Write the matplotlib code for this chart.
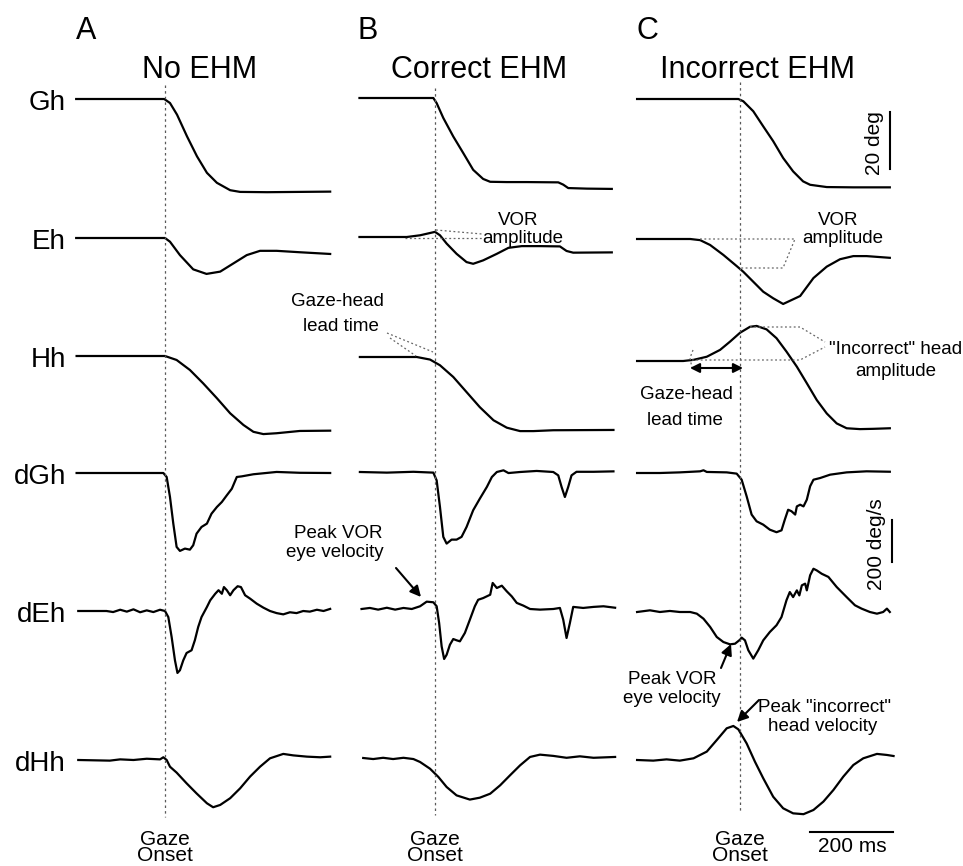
import matplotlib
matplotlib.use('Agg')
import matplotlib.pyplot as plt

plt.rcParams['font.family'] = ['Liberation Sans', 'DejaVu Sans']

# ---- data: time in ms from gaze onset, position in deg, velocity in deg/s ----
# column A : no EHM
A_GH_T = [-214, -2, 12, 29, 53, 77, 101, 125, 157, 181, 246, 398]
A_GH = [0, 0, -1.4, -5.5, -13.1, -20.1, -25.9, -29.4, -32.0, -32.6, -32.7, -32.5]
A_EH_T = [-214, 0, 12, 36, 68, 100, 133, 165, 197, 229, 269, 325, 398]
A_EH = [0, 0, -1.3, -6.0, -11.0, -12.6, -11.8, -8.9, -6.0, -4.5, -4.5, -5.0, -5.6]
A_HH_T = [-213, 0, 28, 60, 92, 125, 157, 189, 213, 237, 269, 325, 398]
A_HH = [0, 0, -1.4, -4.9, -9.6, -14.8, -20.1, -24.2, -26.6, -27.4, -27.1, -26.3, -26.2]
A_DGH_T = [-213, -4, 4, 12, 20, 28, 36, 48, 60, 68, 76, 88, 101, 112, 125, 137, 149, 161,
           173, 185, 213, 269, 325, 398]
A_DGH = [0, 0, -19, -114, -241, -352, -371, -360, -365, -344, -289, -257, -241, -194, -162,
         -138, -106, -75, -19, -16, -6, 5, 1, 0]
A_DEH_T = [-209, -141, -125, -108, -92, -76, -60, -44, -28, -12, 0, 8, 16, 24, 30, 36, 44, 52,
           64, 72, 80, 88, 101, 109, 121, 129, 137, 142, 149, 157, 165, 175, 183, 193, 205, 221,
           237, 253, 269, 285, 301, 317, 333, 349, 366, 382, 398]
A_DEH = [0, 0, -5, 6, -3, 8, -6, 3, -5, 6, 0, -29, -124, -235, -295, -282, -235, -200, -187,
         -139, -76, -29, 19, 51, 82, 99, 82, 114, 99, 75, 99, 118, 114, 75, 59, 35, 16, 0, -10,
         -16, -6, -10, 0, -3, 6, 0, 10]
A_DHH_T = [-209, -133, -108, -76, -44, -12, -4, 4, 12, 28, 52, 76, 101, 116, 133, 157, 181, 205,
           229, 253, 285, 309, 342, 374, 398]
A_DHH = [0, -3, 3, 0, 6, 3, 13, 0, -32, -60, -111, -159, -206, -225, -214, -182, -135, -79,
         -32, 8, 29, 22, 16, 13, 16]

# column B : correct EHM
B_GH_T = [-182, -4, 4, 20, 44, 68, 92, 116, 133, 173, 221, 297, 309, 321, 366, 426]
B_GH = [0, 0, -1.8, -7.0, -13.5, -19.3, -25.2, -28.4, -29.4, -29.5, -29.5, -29.6, -30.4,
        -31.6, -31.8, -31.9]
B_EH_T = [-182, -68, -36, 0, 12, 28, 52, 76, 92, 116, 149, 177, 209, 253, 301, 317, 333, 426]
B_EH = [0, 0, 0.6, 1.8, 0.6, -2.3, -5.9, -8.8, -9.4, -8.2, -5.9, -3.8, -3.2, -3.2, -3.3,
        -4.9, -5.5, -5.4]
B_HH_T = [-181, -44, -12, 12, 44, 76, 108, 141, 173, 205, 237, 285, 430]
B_HH = [0, 0, -0.9, -2.9, -7.0, -12.3, -17.6, -22.2, -24.8, -26.0, -26.0, -25.7, -25.6]
B_DGH_T = [-181, -116, -52, -4, 4, 12, 20, 28, 40, 52, 64, 76, 92, 108, 125, 137, 149, 165,
           177, 205, 245, 285, 297, 305, 313, 321, 329, 341, 382, 430]
B_DGH = [0, -3, 1, -3, -40, -167, -309, -341, -322, -322, -309, -262, -182, -127, -71, -24,
         0, 8, -5, 0, 5, 0, -16, -71, -119, -71, -16, 1, 1, 3]
B_DEH_T = [-177, -157, -137, -116, -96, -76, -56, -36, -20, -4, 4, 10, 16, 22, 28, 36, 44, 52,
           60, 72, 84, 96, 104, 116, 133, 139, 149, 161, 173, 185, 197, 213, 229, 253, 285,
           301, 309, 317, 325, 333, 357, 382, 406, 434]
B_DEH = [0, 5, -3, 6, -3, 5, 0, 13, 35, 32, 13, -67, -178, -238, -218, -170, -143, -149,
         -154, -114, -51, 13, 44, 52, 68, 124, 100, 111, 84, 60, 29, 16, 0, -3, 0, 5, -51,
         -138, -67, 10, 5, 10, 13, 6]
B_DHH_T = [-173, -149, -125, -101, -76, -52, -36, -12, 8, 28, 52, 84, 108, 133, 157, 181, 205,
           229, 253, 285, 317, 349, 382, 434]
B_DHH = [0, -5, 1, -5, 1, -5, -19, -51, -90, -138, -178, -198, -189, -170, -130, -82, -35, 5,
         16, 10, 1, 8, 1, 5]

# column C : incorrect EHM
C_GH_T = [-248, -120, -4, 8, 32, 56, 80, 104, 128, 152, 169, 209, 273, 361]
C_GH = [0, 0, 0, -0.8, -4.3, -9.6, -14.8, -20.7, -25.4, -28.9, -30.1, -30.9, -31.0, -31.0]
C_EH_T = [-248, -120, -96, -72, -40, -8, 8, 32, 56, 80, 104, 145, 177, 209, 241, 273, 305, 361]
C_EH = [0, 0, -0.4, -2.1, -5.6, -9.5, -11.5, -15.0, -18.5, -20.8, -22.8, -20.0, -13.7, -9.7,
        -7.1, -6.0, -6.0, -6.6]
C_HH_T = [-248, -137, -112, -80, -48, -24, 0, 24, 40, 64, 88, 112, 137, 161, 185, 209, 233,
          257, 289, 321, 361]
C_HH = [0, 0, 0.4, 1.5, 3.9, 6.8, 9.9, 12.0, 12.3, 11.1, 8.0, 3.3, -2.0, -7.8, -13.7, -18.4,
        -21.9, -23.6, -23.9, -23.8, -23.6]
C_DGH_T = [-248, -193, -145, -96, -88, -80, -32, -8, 4, 16, 28, 40, 56, 72, 88, 100, 108, 116,
           124, 133, 137, 145, 153, 161, 169, 177, 193, 217, 257, 305, 361]
C_DGH = [0, 0, 3, 8, 13, 5, 3, -3, -32, -111, -198, -230, -246, -270, -282, -273, -222, -175,
         -182, -198, -159, -151, -159, -127, -63, -32, -24, -8, 3, 8, 6]
C_DEH_T = [-248, -217, -193, -169, -145, -120, -104, -88, -72, -56, -40, -24, -12, 0, 4, 12,
           20, 32, 44, 56, 72, 88, 100, 112, 120, 128, 137, 143, 149, 157, 161, 169, 177, 185,
           197, 213, 233, 257, 277, 293, 313, 330, 345, 354, 361]
C_DEH = [0, 8, 0, 5, 0, 0, -8, -32, -71, -119, -143, -154, -151, -132, -122, -135, -182, -222,
         -182, -135, -95, -63, -24, 56, 95, 71, 103, 79, 127, 135, 103, 175, 206, 198, 182, 167,
         119, 71, 32, 16, 0, -8, 0, 16, 0]
C_DHH_T = [-248, -209, -177, -145, -112, -80, -56, -32, -16, -4, 16, 36, 56, 80, 104, 128, 153,
           177, 201, 225, 249, 273, 297, 330, 354, 370]
C_DHH = [0, -3, 3, -3, 8, 40, 95, 151, 162, 146, 79, -8, -87, -175, -230, -254, -258, -238,
         -198, -143, -79, -24, 8, 29, 24, 19]

ROW_NAMES = ['Gh', 'Eh', 'Hh', 'dGh', 'dEh', 'dHh']
PANEL_LETTERS = ['A', 'B', 'C']
PANEL_TITLES = ['No EHM', 'Correct EHM', 'Incorrect EHM']

TRACES = [
    [(A_GH_T, A_GH), (A_EH_T, A_EH), (A_HH_T, A_HH), (A_DGH_T, A_DGH), (A_DEH_T, A_DEH), (A_DHH_T, A_DHH)],
    [(B_GH_T, B_GH), (B_EH_T, B_EH), (B_HH_T, B_HH), (B_DGH_T, B_DGH), (B_DEH_T, B_DEH), (B_DHH_T, B_DHH)],
    [(C_GH_T, C_GH), (C_EH_T, C_EH), (C_HH_T, C_HH), (C_DGH_T, C_DGH), (C_DEH_T, C_DEH), (C_DHH_T, C_DHH)],
]

# ---- layout (pixels) ----
W, H = 963, 866
PX_MS = 83 / 200.0        # 200 ms bar
PX_DEG = 57 / 20.0        # 20 deg bar
PX_VEL = 42 / 200.0       # 200 deg/s bar
XLIM = (-260, 440)
ONSET_PX = [165, 435, 740]
BASE_PX = [[99, 238, 356, 473, 611, 760],
           [98, 237, 357, 472, 609, 758],
           [99, 239, 361, 473, 612, 760]]

fig = plt.figure(figsize=(W / 100, H / 100), dpi=100)


def trace_axes(onset, base, scale):
    left = onset + XLIM[0] * PX_MS
    width = (XLIM[1] - XLIM[0]) * PX_MS
    top, bottom = base - 70, base + 100
    ax = fig.add_axes([left / W, 1 - bottom / H, width / W, (bottom - top) / H])
    ax.set_xlim(XLIM)
    ax.set_ylim((base - bottom) / scale, (base - top) / scale)
    ax.axis('off')
    ax.patch.set_alpha(0)
    return ax


for c in range(3):
    for r in range(6):
        scale = PX_DEG if r < 3 else PX_VEL
        ax = trace_axes(ONSET_PX[c], BASE_PX[c][r], scale)
        t, v = TRACES[c][r]
        ax.plot(t, v, color='black', lw=1.6, clip_on=False, solid_joinstyle='round')

# overlay in pixel coordinates for labels and annotations
ov = fig.add_axes([0, 0, 1, 1])
ov.set_xlim(0, W)
ov.set_ylim(H, 0)
ov.axis('off')
ov.patch.set_alpha(0)

# gaze onset lines
for x, y0, y1 in zip(ONSET_PX, [85, 88, 82], [817, 815, 812]):
    ov.plot([x, x], [y0, y1], color='0.35', lw=0.9, ls=(0, (2, 2.5)))
    ov.text(x, 865, 'Gaze\nOnset', ha='center', va='bottom', fontsize=15,
            linespacing=0.82)

# panel letters and titles
for x, s in zip([76, 358, 637], PANEL_LETTERS):
    ov.text(x, 39, s, ha='left', va='baseline', fontsize=22)
for x, s in zip([200, 479, 758], PANEL_TITLES):
    ov.text(x, 78, s, ha='center', va='baseline', fontsize=22)

# row labels
for base, name in zip(BASE_PX[0], ROW_NAMES):
    ov.text(66, base + 11, name, ha='right', va='baseline', fontsize=20)

# scale bars
ov.plot([890, 890], [112, 169], color='black', lw=1.5)
ov.text(874, 143, '20 deg', rotation=90, ha='center', va='center', fontsize=15)
ov.plot([892, 892], [520, 562], color='black', lw=1.5)
ov.text(876, 544, '200 deg/s', rotation=90, ha='center', va='center', fontsize=15)
ov.plot([810, 893], [832, 832], color='black', lw=1.5)
ov.text(852, 852, '200 ms', ha='center', va='baseline', fontsize=15)

# annotations
FS = 13.5
dot = dict(color='0.4', lw=0.9, ls=(0, (1.5, 2)))
arrow = dict(arrowstyle='-|>', color='black', lw=1.5, mutation_scale=16, shrinkA=0, shrinkB=0)

ov.text(518, 225, 'VOR', ha='center', va='baseline', fontsize=FS)
ov.text(523, 243, 'amplitude', ha='center', va='baseline', fontsize=FS)
ov.plot([436, 482], [230, 234], **dot)
ov.plot([405, 482], [238, 238], **dot)

ov.text(337, 306, 'Gaze-head', ha='center', va='baseline', fontsize=FS)
ov.text(341, 331, 'lead time', ha='center', va='baseline', fontsize=FS)
ov.plot([387, 433], [333, 352], **dot)
ov.plot([390, 416], [338, 356], **dot)

ov.text(338, 538, 'Peak VOR', ha='center', va='baseline', fontsize=FS)
ov.text(335, 557, 'eye velocity', ha='center', va='baseline', fontsize=FS)
ov.annotate('', xy=(421, 597), xytext=(396, 568), arrowprops=arrow)

ov.text(838, 225, 'VOR', ha='center', va='baseline', fontsize=FS)
ov.text(843, 243, 'amplitude', ha='center', va='baseline', fontsize=FS)
ov.plot([700, 795, 783, 741], [239, 239, 268, 268], **dot)

ov.text(896, 354, '"Incorrect" head', ha='center', va='baseline', fontsize=FS)
ov.text(896, 376, 'amplitude', ha='center', va='baseline', fontsize=FS)
ov.plot([750, 800, 825], [327, 327, 342], **dot)
ov.plot([692, 800, 825], [360, 360, 347], **dot)
ov.plot([693, 690, 692], [350, 358, 368], **dot)
ov.annotate('', xy=(690, 368), xytext=(743, 368),
            arrowprops=dict(arrowstyle='<|-|>', color='black', lw=1.5, mutation_scale=14,
                            shrinkA=0, shrinkB=0))

ov.text(686, 399, 'Gaze-head', ha='center', va='baseline', fontsize=FS)
ov.text(685, 425, 'lead time', ha='center', va='baseline', fontsize=FS)

ov.text(672, 684, 'Peak VOR', ha='center', va='baseline', fontsize=FS)
ov.text(672, 703, 'eye velocity', ha='center', va='baseline', fontsize=FS)
ov.annotate('', xy=(731, 644), xytext=(721, 668), arrowprops=arrow)

ov.text(825, 712, 'Peak "incorrect"', ha='center', va='baseline', fontsize=FS)
ov.text(823, 731, 'head velocity', ha='center', va='baseline', fontsize=FS)
ov.annotate('', xy=(737, 722), xytext=(759, 700), arrowprops=arrow)

fig.savefig('out.png', dpi=100, facecolor='white')
